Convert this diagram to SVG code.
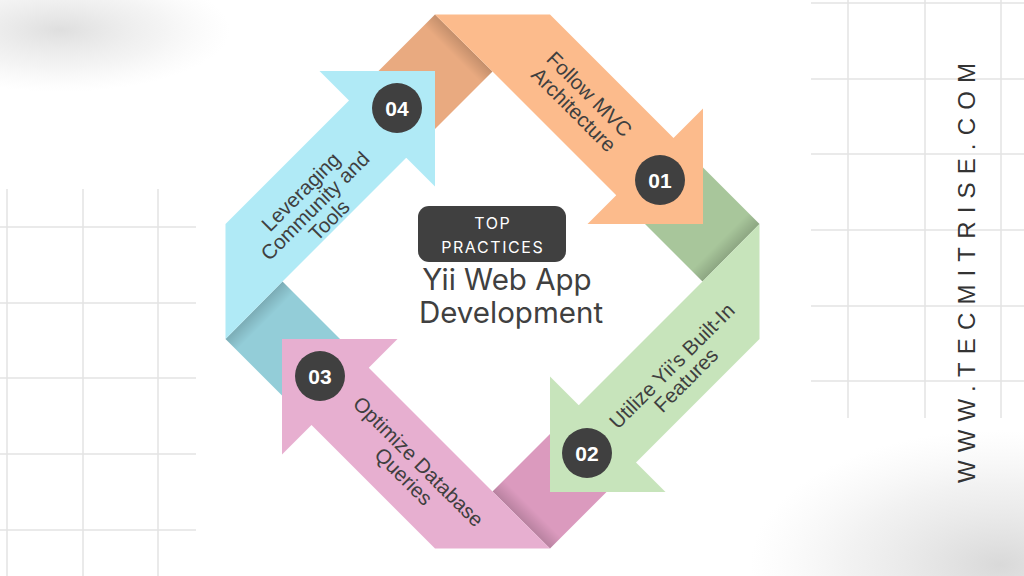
<svg xmlns="http://www.w3.org/2000/svg" xmlns:xlink="http://www.w3.org/1999/xlink" width="1024" height="576" viewBox="0 0 1024 576">
<defs>
<style>
.grid line{stroke:#e3e3e3;stroke-width:1.5}
.num{font-family:"Liberation Sans",Arial,sans-serif;font-weight:bold;font-size:21px;fill:#ffffff;text-anchor:middle}
.lbl{font-family:"Liberation Sans",Arial,sans-serif;font-size:20.5px;fill:#3f3f3f;text-anchor:middle}
.badge{fill:#404040}
.circ{fill:#404040}
.o1{fill:#fcbb8c}.o2{fill:#e9aa80}
.g1{fill:#c7e4bb}.g2{fill:#a8c69b}
.p1{fill:#e7afd0}.p2{fill:#db9abe}
.b1{fill:#b0eaf6}.b2{fill:#93cdd8}
.title{font-family:Inter,"Open Sans",sans-serif;font-size:29.5px;fill:#404040;text-anchor:middle}
.top{font-family:Inter,"Open Sans",sans-serif;font-size:16px;fill:#ffffff;text-anchor:middle;letter-spacing:1.6px}
.url{font-family:"Liberation Sans",Arial,sans-serif;font-size:24px;fill:#333333}
</style>
<radialGradient id="blob" cx="0.5" cy="0.5" r="0.5">
<stop offset="0" stop-color="#d2d2d2" stop-opacity="0.85"/>
<stop offset="0.6" stop-color="#dedede" stop-opacity="0.4"/>
<stop offset="1" stop-color="#e8e8e8" stop-opacity="0"/>
</radialGradient>
<linearGradient id="shade" gradientUnits="userSpaceOnUse" x1="-28.75" y1="-238.5" x2="-40" y2="-227.2">
<stop offset="0" stop-color="#000" stop-opacity="0.16"/>
<stop offset="1" stop-color="#000" stop-opacity="0"/>
</linearGradient>
<polygon id="body" points="-57.5,-267 57.5,-267 181,-143.5 210.5,-173 210.5,-57.5 95,-57.5 123.75,-86.25 0,-210"/>
<polygon id="tail" points="-143.5,-181 -57.5,-267 0,-210 -86.25,-123.75"/>
<polygon id="crease" points="-57.5,-267 0,-210 -12,-198 -69.5,-255" fill="url(#shade)"/>
</defs>

<rect x="0" y="0" width="1024" height="576" fill="#ffffff"/>
<ellipse cx="60" cy="30" rx="170" ry="62" fill="url(#blob)" opacity="0.85"/>
<ellipse cx="1000" cy="565" rx="250" ry="135" fill="url(#blob)"/>

<g class="grid" id="grid-left">
<line x1="7" y1="189" x2="7" y2="576"/>
<line x1="83" y1="189" x2="83" y2="576"/>
<line x1="158" y1="189" x2="158" y2="576"/>
<line x1="0" y1="227" x2="196" y2="227"/>
<line x1="0" y1="303" x2="196" y2="303"/>
<line x1="0" y1="378" x2="196" y2="378"/>
<line x1="0" y1="454" x2="196" y2="454"/>
<line x1="0" y1="530" x2="196" y2="530"/>
</g>
<g class="grid" id="grid-right">
<line x1="848" y1="0" x2="848" y2="418"/>
<line x1="925" y1="0" x2="925" y2="418"/>
<line x1="1001" y1="0" x2="1001" y2="418"/>
<line x1="811" y1="3" x2="1024" y2="3"/>
<line x1="811" y1="79" x2="1024" y2="79"/>
<line x1="811" y1="154" x2="1024" y2="154"/>
<line x1="811" y1="230" x2="1024" y2="230"/>
<line x1="811" y1="306" x2="1024" y2="306"/>
<line x1="811" y1="381" x2="1024" y2="381"/>
</g>

<g id="folds" transform="translate(492.5,281.5)">
<use xlink:href="#tail" class="o2"/>
<use xlink:href="#crease"/>
<use xlink:href="#tail" class="g2" transform="rotate(90)"/>
<use xlink:href="#crease" transform="rotate(90)"/>
<use xlink:href="#tail" class="p2" transform="rotate(180)"/>
<use xlink:href="#crease" transform="rotate(180)"/>
<use xlink:href="#tail" class="b2" transform="rotate(270)"/>
<use xlink:href="#crease" transform="rotate(270)"/>
</g>

<g id="step-01">
<use xlink:href="#body" class="o1" transform="translate(492.5,281.5)"/>
<circle class="circ" cx="660" cy="180" r="25"/>
<text class="num" x="660" y="187.5">01</text>
<g transform="translate(581.5,102) rotate(45)">
<text class="lbl" x="0" y="-4">Follow MVC</text>
<text class="lbl" x="0" y="18">Architecture</text>
</g>
</g>

<g id="step-02">
<use xlink:href="#body" class="g1" transform="translate(492.5,281.5) rotate(90)"/>
<circle class="circ" cx="587" cy="453" r="25"/>
<text class="num" x="587" y="460.5">02</text>
<g transform="translate(679,373) rotate(-45)">
<text class="lbl" x="0" y="-3">Utilize Yii’s Built-In</text>
<text class="lbl" x="0" y="17">Features</text>
</g>
</g>

<g id="step-03">
<use xlink:href="#body" class="p1" transform="translate(492.5,281.5) rotate(180)"/>
<circle class="circ" cx="320" cy="376" r="25"/>
<text class="num" x="320" y="383.5">03</text>
<g transform="translate(411,469) rotate(45)">
<text class="lbl" x="0" y="-3.5">Optimize Database</text>
<text class="lbl" x="0" y="17.5">Queries</text>
</g>
</g>

<g id="step-04">
<use xlink:href="#body" class="b1" transform="translate(492.5,281.5) rotate(270)"/>
<circle class="circ" cx="397" cy="108" r="25"/>
<text class="num" x="397" y="115.5">04</text>
<g transform="translate(315,206) rotate(-45)">
<text class="lbl" x="0" y="-13">Leveraging</text>
<text class="lbl" x="0" y="7">Community and</text>
<text class="lbl" x="0" y="27">Tools</text>
</g>
</g>

<g id="center">
<rect class="badge" x="418" y="206" width="148" height="56" rx="11"/>
<text class="top" x="492.8" y="229">TOP</text>
<text class="top" x="492.8" y="253">PRACTICES</text>
<text class="title" x="507" y="290">Yii Web App</text>
<text class="title" x="511" y="323">Development</text>
</g>

<g id="watermark">
<text class="url" transform="translate(975,483) rotate(-90)" x="0" y="0" textLength="420" lengthAdjust="spacing">WWW.TECMITRISE.COM</text>
</g>
</svg>
